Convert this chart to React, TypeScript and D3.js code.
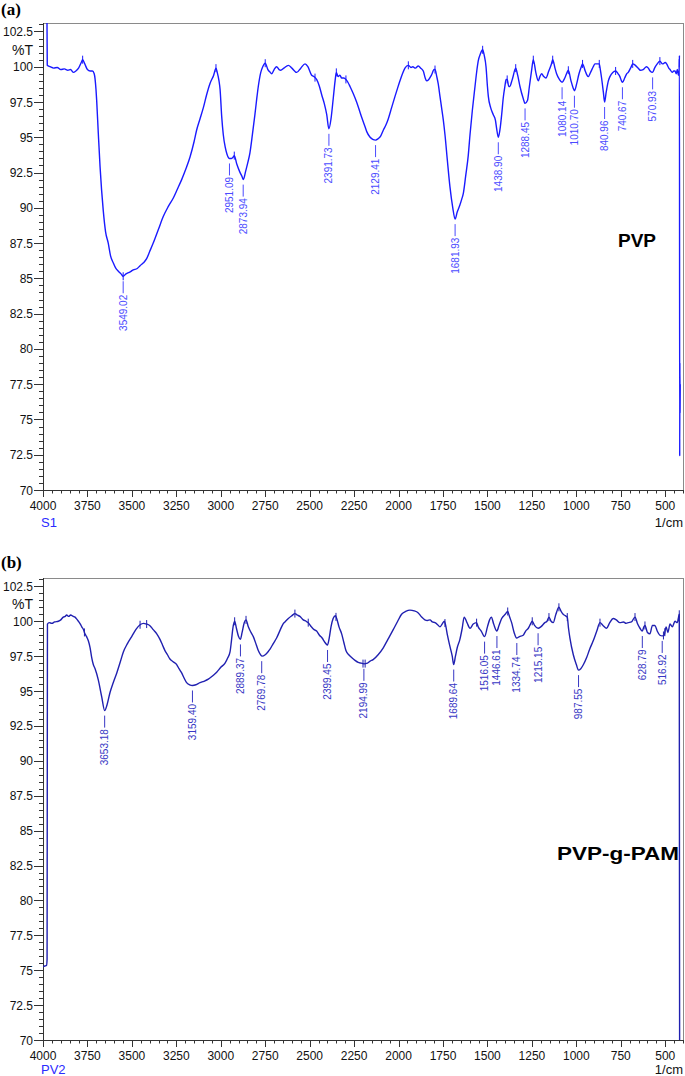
import React from 'react';
import * as d3 from 'd3';

const xTickValues = [4000, 3750, 3500, 3250, 3000, 2750, 2500, 2250, 2000, 1750, 1500, 1250, 1000, 750, 500];
const yTickValues = [102.5, 100, 97.5, 95, 92.5, 90, 87.5, 85, 82.5, 80, 77.5, 75, 72.5, 70];

// (a) PVP spectrum: [wavenumber 1/cm, %T]
const pvpSpectrum: [number, number][] = [
  [3978, 104], [3976, 100.1], [3960, 100.0], [3940, 99.9], [3920, 99.95], [3900, 99.8], [3880, 99.85],
  [3860, 99.75], [3845, 99.8], [3830, 99.6], [3815, 99.7], [3800, 99.9], [3785, 100.3], [3777, 100.5],
  [3765, 100.2], [3750, 99.8], [3735, 99.7], [3722, 99.7], [3712, 99.5], [3702, 98.4], [3698, 97.6],
  [3689, 95.3], [3679, 92.9], [3661, 89.8], [3648, 88.3], [3633, 87.5], [3620, 86.6], [3605, 86.1],
  [3590, 85.7], [3576, 85.5], [3560, 85.3], [3549, 85.15], [3535, 85.3], [3520, 85.4], [3505, 85.5],
  [3492, 85.6], [3470, 85.7], [3454, 85.9], [3435, 86.1], [3417, 86.4], [3400, 86.9], [3380, 87.5],
  [3350, 88.5], [3323, 89.4], [3295, 90.1], [3267, 90.7], [3245, 91.3], [3220, 92.0], [3195, 92.8],
  [3173, 93.6], [3150, 94.7], [3136, 95.5], [3117, 96.3], [3098, 97.1], [3080, 98.0], [3061, 98.8],
  [3040, 99.4], [3027, 99.9], [3020, 99.6], [3010, 99.0], [3004, 98.4], [2995, 96.5], [2986, 95.2],
  [2975, 94.3], [2965, 93.8], [2951, 93.5], [2940, 93.5], [2930, 93.6], [2924, 93.7], [2910, 93.1],
  [2895, 92.6], [2880, 92.2], [2873, 92.0], [2860, 92.6], [2848, 93.2], [2836, 93.9], [2822, 95.2],
  [2808, 96.6], [2798, 97.7], [2789, 98.6], [2775, 99.6], [2764, 100.0], [2750, 100.25], [2735, 99.8],
  [2722, 99.6], [2714, 99.5], [2700, 99.8], [2686, 100.0], [2672, 99.8], [2663, 99.75], [2645, 99.9],
  [2620, 100.1], [2600, 99.9], [2573, 99.6], [2550, 99.9], [2526, 100.2], [2510, 100.0], [2489, 99.4],
  [2475, 99.3], [2461, 99.1], [2445, 98.6], [2432, 98.0], [2418, 97.4], [2404, 96.6], [2392, 95.6],
  [2380, 96.3], [2367, 97.8], [2357, 99.0], [2350, 99.6], [2340, 99.3], [2330, 99.4], [2320, 99.2],
  [2308, 99.2], [2296, 99.1], [2285, 98.9], [2273, 98.6], [2255, 98.1], [2236, 97.5], [2220, 96.9],
  [2207, 96.4], [2190, 95.8], [2179, 95.4], [2160, 95.0], [2145, 94.85], [2129, 94.8], [2115, 94.9],
  [2100, 95.1], [2086, 95.5], [2070, 95.9], [2058, 96.3], [2039, 97.1], [2020, 97.9], [2005, 98.5],
  [1992, 99.0], [1978, 99.5], [1964, 99.9], [1945, 100.1], [1930, 99.95], [1920, 100.0], [1905, 99.9],
  [1889, 100.05], [1875, 99.9], [1861, 99.7], [1850, 99.2], [1842, 99.0], [1830, 99.1], [1815, 99.4],
  [1800, 99.8], [1795, 99.8], [1785, 99.3], [1777, 98.8], [1767, 97.9], [1758, 97.1], [1748, 96.2],
  [1739, 95.2], [1725, 93.3], [1711, 91.5], [1695, 90.0], [1682, 89.2], [1670, 89.7], [1655, 90.2],
  [1645, 90.6], [1636, 91.0], [1622, 92.3], [1608, 93.7], [1598, 95.2], [1585, 96.9], [1570, 98.6],
  [1560, 99.7], [1552, 100.4], [1540, 100.9], [1527, 101.2], [1518, 100.8], [1508, 100.0], [1500, 98.6],
  [1495, 97.9], [1482, 97.1], [1467, 96.6], [1455, 96.2], [1448, 95.6], [1439, 95.0], [1430, 95.5],
  [1420, 96.6], [1411, 97.8], [1402, 98.6], [1395, 99.1], [1389, 99.1], [1380, 98.6], [1374, 98.6],
  [1365, 98.9], [1358, 99.2], [1341, 99.9], [1330, 99.4], [1317, 98.6], [1300, 97.8], [1288, 97.4],
  [1275, 97.6], [1264, 98.6], [1252, 99.7], [1242, 100.5], [1228, 99.6], [1214, 99.0], [1205, 99.3],
  [1195, 99.5], [1183, 99.3], [1171, 99.2], [1155, 99.7], [1140, 100.2], [1133, 100.5], [1120, 99.9],
  [1111, 99.5], [1095, 99.1], [1080, 98.9], [1065, 99.2], [1052, 99.6], [1045, 99.75], [1030, 99.0],
  [1018, 98.5], [1010, 98.3], [998, 98.8], [985, 99.5], [972, 100.0], [965, 100.2], [950, 99.7],
  [940, 99.4], [933, 99.3], [920, 99.6], [905, 100.0], [895, 100.2], [880, 100.2], [871, 100.2],
  [865, 99.8], [858, 99.2], [848, 98.2], [841, 97.5], [832, 98.2], [820, 99.0], [811, 99.3],
  [795, 99.6], [779, 99.7], [765, 99.5], [755, 99.3], [746, 99.0], [740, 98.9], [728, 99.2],
  [717, 99.5], [708, 99.6], [695, 99.9], [683, 100.2], [668, 100.1], [652, 99.9], [640, 99.75],
  [624, 99.8], [612, 99.95], [605, 100.0], [595, 99.9], [585, 99.7], [571, 99.6], [560, 99.9],
  [545, 100.2], [530, 100.4], [515, 100.2], [500, 100.3], [492, 100.2], [480, 99.9], [473, 99.8],
  [460, 99.6], [452, 99.7], [445, 99.7], [438, 99.5], [432, 99.8], [426, 99.4], [422, 99.7],
  [420, 100.8], [418.5, 72.4], [417.5, 79.0], [416.5, 75.5], [415.5, 77.5],
];

const pvpPeaks: { wn: number; t: number }[] = [
  { wn: 3549.02, t: 85.15 }, { wn: 2951.09, t: 93.5 }, { wn: 2873.94, t: 92.0 }, { wn: 2391.73, t: 95.6 },
  { wn: 2129.41, t: 94.8 }, { wn: 1681.93, t: 89.2 }, { wn: 1438.9, t: 95.0 }, { wn: 1288.45, t: 97.4 },
  { wn: 1080.14, t: 98.9 }, { wn: 1010.7, t: 98.3 }, { wn: 840.96, t: 97.5 }, { wn: 740.67, t: 98.9 },
  { wn: 570.93, t: 99.6 },
];

const pvpMarkers = [3777, 3549, 3027, 2924, 2750, 2470, 2350, 2296, 1945, 1795, 1527, 1389, 1341, 1242, 1133, 1045, 965, 871, 779, 683, 530, 421];

// (b) PVP-g-PAM spectrum
const pamSpectrum: [number, number][] = [
  [4000, 75.25], [3990, 75.3], [3980, 75.35], [3977, 75.8], [3975, 99.8], [3965, 99.9], [3950, 99.85],
  [3935, 99.95], [3914, 100.0], [3900, 100.1], [3886, 100.3], [3875, 100.35], [3867, 100.45], [3855, 100.35],
  [3845, 100.45], [3830, 100.35], [3820, 100.3], [3810, 100.15], [3801, 100.0], [3790, 99.8], [3782, 99.6],
  [3772, 99.4], [3767, 99.2], [3755, 98.9], [3745, 98.6], [3735, 98.1], [3726, 97.4], [3717, 96.9],
  [3707, 96.6], [3689, 95.8], [3670, 94.6], [3653, 93.6], [3640, 94.0], [3623, 94.9], [3605, 95.6],
  [3585, 96.3], [3565, 97.1], [3548, 97.8], [3525, 98.4], [3501, 98.9], [3478, 99.4], [3454, 99.75],
  [3435, 99.85], [3417, 99.8], [3400, 99.7], [3380, 99.4], [3360, 99.1], [3342, 98.7], [3328, 98.3],
  [3314, 97.9], [3300, 97.6], [3286, 97.3], [3268, 97.1], [3248, 96.9], [3235, 96.6], [3220, 96.3],
  [3205, 95.9], [3192, 95.6], [3175, 95.45], [3159, 95.4], [3140, 95.45], [3117, 95.6], [3095, 95.7],
  [3070, 95.85], [3045, 96.1], [3023, 96.35], [3000, 96.7], [2976, 97.0], [2960, 97.4], [2948, 97.8],
  [2940, 98.6], [2932, 99.5], [2922, 100.0], [2912, 99.5], [2900, 98.9], [2890, 98.7], [2880, 99.2],
  [2868, 99.9], [2858, 100.1], [2845, 99.6], [2830, 99.2], [2817, 98.9], [2800, 98.3], [2789, 97.9],
  [2776, 97.6], [2768, 97.5], [2750, 97.6], [2735, 97.8], [2723, 98.0], [2705, 98.4], [2686, 98.8],
  [2665, 99.4], [2650, 99.8], [2639, 99.95], [2620, 100.2], [2600, 100.4], [2583, 100.55], [2570, 100.45],
  [2555, 100.35], [2536, 100.1], [2520, 100.0], [2508, 99.9], [2490, 99.6], [2475, 99.4], [2461, 99.3],
  [2445, 99.0], [2430, 98.8], [2415, 98.5], [2400, 98.3], [2390, 98.8], [2380, 99.6], [2368, 100.2],
  [2355, 100.4], [2348, 100.2], [2335, 99.6], [2320, 99.1], [2308, 98.5], [2296, 97.9], [2280, 97.6],
  [2264, 97.4], [2245, 97.2], [2227, 97.05], [2210, 97.0], [2195, 96.95], [2175, 97.0], [2160, 97.15],
  [2143, 97.25], [2115, 97.6], [2086, 98.1], [2060, 98.7], [2030, 99.4], [2005, 100.0], [1983, 100.5],
  [1960, 100.7], [1936, 100.8], [1912, 100.75], [1889, 100.6], [1870, 100.3], [1852, 100.1], [1838, 100.05],
  [1823, 100.1], [1810, 99.95], [1795, 99.9], [1780, 99.75], [1767, 99.6], [1755, 99.8], [1742, 100.0],
  [1735, 99.7], [1725, 99.0], [1711, 98.2], [1698, 97.5], [1690, 96.9], [1680, 97.5], [1670, 98.1],
  [1655, 98.7], [1642, 99.5], [1631, 100.3], [1615, 99.9], [1598, 99.5], [1580, 99.8], [1561, 99.9],
  [1552, 99.6], [1535, 99.3], [1516, 98.9], [1500, 99.6], [1488, 100.1], [1478, 100.3], [1465, 99.8],
  [1447, 99.3], [1435, 99.7], [1420, 100.2], [1400, 100.5], [1386, 100.7], [1375, 100.3], [1364, 99.9],
  [1350, 99.2], [1336, 98.8], [1320, 98.9], [1299, 99.0], [1285, 99.3], [1270, 99.5], [1258, 99.8],
  [1248, 100.0], [1235, 99.7], [1215, 99.5], [1200, 99.6], [1177, 99.9], [1165, 100.0], [1154, 100.3],
  [1142, 100.0], [1130, 99.9], [1115, 100.5], [1098, 101.0], [1085, 100.7], [1074, 100.5], [1062, 100.4],
  [1051, 100.3], [1044, 99.5], [1036, 98.8], [1017, 97.6], [1000, 96.9], [988, 96.5], [975, 96.6],
  [960, 96.9], [942, 97.4], [925, 98.0], [905, 98.6], [885, 99.3], [867, 99.9], [850, 99.7],
  [830, 99.5], [812, 99.9], [793, 100.2], [775, 100.1], [755, 99.9], [735, 99.95], [720, 99.85],
  [708, 99.9], [690, 99.95], [670, 100.3], [655, 99.8], [642, 99.5], [629, 99.3], [620, 99.6],
  [614, 99.7], [600, 99.2], [586, 99.1], [572, 99.7], [558, 99.7], [545, 99.3], [530, 99.0],
  [517, 98.95], [506, 99.0], [495, 99.6], [485, 99.2], [473, 99.8], [460, 99.6], [445, 100.0],
  [432, 99.9], [425, 100.3], [421, 100.5], [419, 69.0],
];

const pamPeaks: { wn: number; t: number }[] = [
  { wn: 3653.18, t: 93.6 }, { wn: 3159.4, t: 95.4 }, { wn: 2889.37, t: 98.7 }, { wn: 2769.78, t: 97.5 },
  { wn: 2399.45, t: 98.3 }, { wn: 2194.99, t: 96.95 }, { wn: 1689.64, t: 96.9 }, { wn: 1516.05, t: 98.9 },
  { wn: 1446.61, t: 99.3 }, { wn: 1334.74, t: 98.8 }, { wn: 1215.15, t: 99.5 }, { wn: 987.55, t: 96.5 },
  { wn: 628.79, t: 99.3 }, { wn: 516.92, t: 98.95 },
];

const pamMarkers = [3767, 3454, 3417, 2922, 2858, 2583, 2508, 2352, 2200, 2188, 1739, 1561, 1386, 1248, 1154, 1098, 1051, 867, 670, 614, 510, 502, 421];

const LEFT = 43;
const RIGHT = 683;

type PanelProps = {
  top: number;
  bottom: number;
  data: [number, number][];
  peaks: { wn: number; t: number }[];
  markers: number[];
  lineColor: string;
  labelColor: string;
  sample: string;
  sampleOffset: number;
  tag: string;
  tagY: number;
  title: string;
  titleX: number;
  titleY: number;
  titleLength?: number;
  id: string;
};

function Panel(p: PanelProps) {
  const x = d3.scaleLinear().domain([4000, 400]).range([LEFT, RIGHT]);
  const y = d3.scaleLinear().domain([70, 103.1]).range([p.bottom, p.top]);
  const line = d3
    .line<[number, number]>()
    .x((d) => x(d[0]))
    .y((d) => y(d[1]))
    .curve(d3.curveMonotoneX);
  const interp = (w: number) => {
    const s = p.data;
    for (let i = 0; i < s.length - 1; i++) {
      const a = s[i];
      const b = s[i + 1];
      if (a[0] >= w && b[0] <= w) {
        const f = (a[0] - w) / (a[0] - b[0] || 1);
        return a[1] + (b[1] - a[1]) * f;
      }
    }
    return 100;
  };
  const minorY = d3.range(70, 103.01, 0.5);
  const minorX = d3.range(4000, 399, -50);
  const font = "'Liberation Sans', Arial, sans-serif";
  return (
    <g>
      <text x={1} y={p.tagY} fontFamily="'Liberation Serif', 'Times New Roman', serif" fontWeight="bold" fontSize={17}>
        {p.tag}
      </text>
      <defs>
        <clipPath id={p.id}>
          <rect x={LEFT} y={p.top} width={RIGHT - LEFT} height={p.bottom - p.top} />
        </clipPath>
      </defs>
      {/* frame */}
      <line x1={LEFT} x2={RIGHT} y1={p.top + 0.5} y2={p.top + 0.5} stroke="#8a8a8a" />
      <line x1={RIGHT + 0.5} x2={RIGHT + 0.5} y1={p.top} y2={p.bottom} stroke="#8a8a8a" />
      <line x1={LEFT + 0.5} x2={LEFT + 0.5} y1={p.top} y2={p.bottom} stroke="#333" />
      <line x1={LEFT} x2={RIGHT + 1} y1={p.bottom + 0.5} y2={p.bottom + 0.5} stroke="#333" />
      {/* y ticks */}
      {minorY.map((v) => {
        const major = Math.abs(v / 2.5 - Math.round(v / 2.5)) < 1e-6;
        const yy = Math.round(y(v)) + 0.5;
        return <line key={'ym' + v} x1={LEFT - (major ? 9 : 4)} x2={LEFT} y1={yy} y2={yy} stroke="#333" />;
      })}
      {yTickValues.map((v) => (
        <text key={'yl' + v} x={LEFT - 10} y={y(v) + 4.5} textAnchor="end" fontFamily={font} fontSize={12} fill="#111">
          {v}
        </text>
      ))}
      <text x={LEFT - 10} y={(y(102.5) + y(100)) / 2 + 5.5} textAnchor="end" fontFamily={font} fontSize={14} fill="#111">
        %T
      </text>
      {/* x ticks */}
      {minorX.map((w) => {
        const major = w % 250 === 0;
        const xx = Math.round(x(w)) + 0.5;
        return <line key={'xm' + w} x1={xx} x2={xx} y1={p.bottom} y2={p.bottom + (major ? 7 : 3.5)} stroke="#333" />;
      })}
      {xTickValues.map((w) => (
        <text key={'xl' + w} x={x(w)} y={p.bottom + 19.5} textAnchor="middle" fontFamily={font} fontSize={12} fill="#111">
          {w}
        </text>
      ))}
      <text x={LEFT - 2} y={p.bottom + p.sampleOffset} fontFamily={font} fontSize={13} fill="#2b2bff">
        {p.sample}
      </text>
      <text x={RIGHT} y={p.bottom + p.sampleOffset} textAnchor="end" fontFamily={font} fontSize={13} fill="#111">
        1/cm
      </text>
      {/* spectrum */}
      <g clipPath={`url(#${p.id})`}>
        <path d={line(p.data) || ''} fill="none" stroke={p.lineColor} strokeWidth={1.4} strokeLinejoin="round" />
        {p.markers.map((w) => {
          const yy = y(interp(w));
          return <line key={'mk' + w} x1={x(w)} x2={x(w)} y1={yy - 4} y2={yy + 4} stroke={p.lineColor} strokeWidth={1} />;
        })}
      </g>
      {/* peak labels */}
      {p.peaks.map((pk) => {
        const xx = x(pk.wn);
        const yc = y(pk.t);
        return (
          <g key={'pk' + pk.wn}>
            <line x1={xx} x2={xx} y1={yc + 5} y2={yc + 17} stroke={p.labelColor} strokeWidth={1} />
            <text
              transform={`translate(${xx},${yc + 18.5}) rotate(-90)`}
              textAnchor="end"
              dy="0.35em"
              fontFamily={font}
              fontSize={10}
              fill={p.labelColor}
            >
              {pk.wn.toFixed(2)}
            </text>
          </g>
        );
      })}
      <text
        x={p.titleX}
        y={p.titleY}
        fontFamily={font}
        fontWeight="bold"
        fontSize={19}
        fill="#000"
        textLength={p.titleLength}
        lengthAdjust={p.titleLength ? 'spacingAndGlyphs' : undefined}
      >
        {p.title}
      </text>
    </g>
  );
}

export default function App() {
  return (
    <svg
      width={685}
      height={1076}
      viewBox="0 0 685 1076"
      style={{ position: 'absolute', left: 0, top: 0, background: '#fff' }}
    >
      <rect x={0} y={0} width={685} height={1076} fill="#fff" />
      <Panel
        id="clipA"
        top={23}
        bottom={490}
        data={pvpSpectrum}
        peaks={pvpPeaks}
        markers={pvpMarkers}
        lineColor="#1a1aff"
        labelColor="#4b4bff"
        sample="S1"
        sampleOffset={37}
        tag="(a)"
        tagY={15}
        title="PVP"
        titleX={618}
        titleY={247}
      />
      <Panel
        id="clipB"
        top={578}
        bottom={1040}
        data={pamSpectrum}
        peaks={pamPeaks}
        markers={pamMarkers}
        lineColor="#2020b0"
        labelColor="#3737c4"
        sample="PV2"
        sampleOffset={34}
        tag="(b)"
        tagY={568}
        title="PVP-g-PAM"
        titleX={557}
        titleY={860}
        titleLength={122}
      />
    </svg>
  );
}
